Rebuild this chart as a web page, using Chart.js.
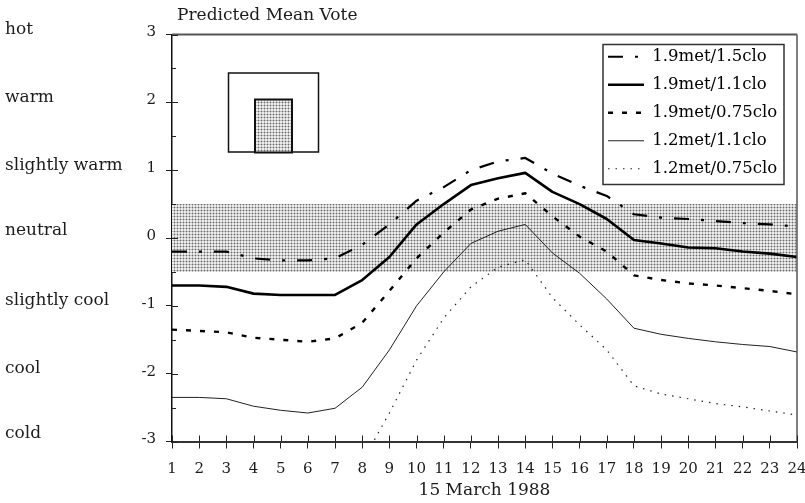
<!DOCTYPE html>
<html>
<head>
<meta charset="utf-8">
<style>html,body{margin:0;padding:0;background:#fff}#wrap{width:805px;height:503px}</style>
<script src="https://cdn.jsdelivr.net/npm/chart.js@4/dist/chart.umd.min.js"></script>
</head>
<body>
<div id="wrap"><canvas id="c" width="805" height="503"></canvas></div>
<script>
const hours = ['1','2','3','4','5','6','7','8','9','10','11','12','13','14','15','16','17','18','19','20','21','22','23','24'];
const met19clo15 = [-0.2,-0.2,-0.2,-0.3,-0.33,-0.33,-0.3,-0.1,0.2,0.55,0.75,1.0,1.13,1.18,0.95,0.77,0.62,0.35,0.3,0.28,0.25,0.22,0.2,0.17];
const met19clo11 = [-0.7,-0.7,-0.72,-0.82,-0.84,-0.84,-0.84,-0.62,-0.28,0.2,0.5,0.78,0.88,0.96,0.68,0.5,0.28,-0.03,-0.08,-0.14,-0.15,-0.2,-0.23,-0.28];
const met19clo075 = [-1.35,-1.37,-1.39,-1.47,-1.5,-1.53,-1.48,-1.25,-0.78,-0.3,0.08,0.42,0.58,0.66,0.32,0.02,-0.2,-0.55,-0.62,-0.67,-0.7,-0.74,-0.78,-0.83];
const met12clo11 = [-2.35,-2.35,-2.37,-2.48,-2.54,-2.58,-2.51,-2.2,-1.65,-1.0,-0.5,-0.08,0.1,0.2,-0.22,-0.52,-0.9,-1.33,-1.42,-1.48,-1.53,-1.57,-1.6,-1.68];
const met12clo075 = [-3.9,-3.9,-3.9,-3.9,-3.9,-3.9,-3.8,-3.3,-2.58,-1.8,-1.18,-0.72,-0.43,-0.32,-0.88,-1.28,-1.65,-2.18,-2.3,-2.37,-2.44,-2.49,-2.55,-2.61];
const neutralUpper = hours.map(() => 0.5);
const neutralLower = hours.map(() => -0.5);
const sensationLabels = ['hot','warm','slightly warm','neutral','slightly cool','cool','cold'];
const sensationValues = [3,2,1,0.04,-1,-2,-2.95];
const FONT = 'DejaVu Serif';
const INK = '#1c1c1c';

function stipple() {
  const p = document.createElement('canvas');
  p.width = 3; p.height = 3;
  const g = p.getContext('2d');
  g.fillStyle = '#ececec'; g.fillRect(0,0,3,3);
  g.fillStyle = '#bcbcbc'; g.fillRect(0,0,3,1); g.fillRect(0,0,1,3);
  g.fillStyle = '#6c6c6c'; g.fillRect(0,0,1,1);
  return g.createPattern(p,'repeat');
}
const pattern = stipple();

const line = (label, data, w, dash, color) => ({
  label, data, borderColor: color||'#000', borderWidth: w, borderDash: dash,
  pointRadius: 0, tension: 0, fill: false, order: 1, borderCapStyle:'butt', borderJoinStyle:'round'
});

const furniture = {
  id: 'furniture',
  afterLayout(chart) {
    const lg = chart.legend;
    lg.left = 596.5; lg.top = 37; lg.right = 784; lg.bottom = 420;
    const t = chart.titleBlock;
    const w = t.right - t.left;
    t.left = 177; t.right = 177 + w;
  },
  beforeDatasetsDraw(chart) {
    const c = chart.ctx, a = chart.chartArea;
    c.save();
    // inset room sketch, placed relative to the plot area
    c.strokeStyle = '#111'; c.lineWidth = 1.5;
    const ox = a.left, oy = a.top;
    c.strokeRect(ox+56.5, oy+38.5, 90, 79);
    c.fillStyle = pattern;
    c.fillRect(ox+83, oy+65, 37, 53);
    c.lineWidth = 2;
    c.strokeRect(ox+83, oy+65, 37, 53);
    c.restore();
  },
  afterDraw(chart) {
    const c = chart.ctx, a = chart.chartArea, x = chart.scales.x, y = chart.scales.y;
    c.save();
    c.strokeStyle = '#555'; c.lineWidth = 2;
    c.beginPath(); c.moveTo(a.left, a.top); c.lineTo(a.right, a.top); c.stroke();
    c.lineWidth = 1.5;
    c.beginPath(); c.moveTo(a.right, a.top); c.lineTo(a.right, a.bottom); c.stroke();
    // inward parts of the ticks
    c.strokeStyle = '#222'; c.lineWidth = 1;
    x.ticks.forEach((t,i) => {
      const px = Math.round(x.getPixelForTick(i)) + .5;
      c.beginPath(); c.moveTo(px, a.bottom); c.lineTo(px, a.bottom - 6); c.stroke();
    });
    y.ticks.forEach((t,i) => {
      const py = Math.round(y.getPixelForTick(i)) + .5;
      const len = Number.isInteger(t.value) ? 6 : 4;
      c.beginPath(); c.moveTo(a.left, py); c.lineTo(a.left + len, py); c.stroke();
    });
    // legend frame
    c.strokeStyle = '#333'; c.lineWidth = 1.5;
    c.strokeRect(603, 44.5, 181, 140);
    // thermal sensation scale
    c.fillStyle = INK; c.font = '17px "' + FONT + '"';
    c.textAlign = 'left'; c.textBaseline = 'middle';
    sensationLabels.forEach((s,i) => c.fillText(s, 5, y.getPixelForValue(sensationValues[i]) - 5));
    c.restore();
  }
};

new Chart(document.getElementById('c'), {
  type: 'line',
  data: {
    labels: hours,
    datasets: [
      line('1.9met/1.5clo', met19clo15, 2.2, [15,12,3,12]),
      line('1.9met/1.1clo', met19clo11, 2.6, []),
      line('1.9met/0.75clo', met19clo075, 2.4, [5,9]),
      line('1.2met/1.1clo', met12clo11, 1, [], '#222'),
      line('1.2met/0.75clo', met12clo075, 1.2, [1.5,6], '#222'),
      { label:'neutral band', data: neutralUpper, borderWidth:0, pointRadius:0, backgroundColor: pattern, fill:'+1', order: 5 },
      { label:'neutral lower', data: neutralLower, borderWidth:0, pointRadius:0, fill:false, order: 5 }
    ]
  },
  options: {
    responsive: false,
    animation: false,
    layout: { padding: { left:0, right:0, top:0, bottom:0 } },
    plugins: {
      tooltip: { enabled:false },
      title: {
        display: true, text: 'Predicted Mean Vote', align: 'start', fullSize: false,
        color: INK, font: { family: FONT, size: 17, weight: 'normal' }, padding: { top: 5, bottom: 9.1 }
      },
      legend: {
        position: 'chartArea', align: 'start',
        labels: {
          usePointStyle: true, pointStyle:'line', pointStyleWidth: 36, color: INK,
          font: { family: FONT, size: 16.5 }, padding: 11.5,
          filter: item => item.datasetIndex < 5,
          generateLabels: chart => chart.data.datasets.map((d,i) => ({
            text: d.label, datasetIndex: i, pointStyle:'line', lineWidth: d.borderWidth,
            strokeStyle: d.borderColor, fillStyle: d.borderColor, lineDash: d.borderDash, hidden:false
          }))
        }
      }
    },
    scales: {
      x: {
        offset: false,
        grid: { drawOnChartArea:false, drawTicks:true, tickLength:7, tickColor:'#222' },
        border: { color:'#333', width:2 },
        ticks: { autoSkip:false, maxRotation:0, minRotation:0, color:INK, padding:12, font:{ family:FONT, size:15 } },
        title: { display:true, text:'15 March 1988', color:INK, font:{ family:FONT, size:17 }, padding:{top:0,bottom:2} },
        afterFit: s => { s.height = 61.5; s.paddingRight = 8; s.paddingLeft = 0; }
      },
      y: {
        min:-3, max:3,
        grid: { drawOnChartArea:false, drawTicks:true, tickLength:6, tickColor: c => Number.isInteger(c.tick && c.tick.value) ? '#222' : 'rgba(0,0,0,0)' },
        border: { color:'#111', width:1.5 },
        ticks: { stepSize:0.5, autoSkip:false, color:INK, padding:10, labelOffset:-2, font:{ family:FONT, size:15 },
          callback: v => Number.isInteger(v) ? String(v) : '' },
        afterFit: s => { s.width = 172; }
      }
    }
  },
  plugins: [furniture]
});
</script>
</body>
</html>
